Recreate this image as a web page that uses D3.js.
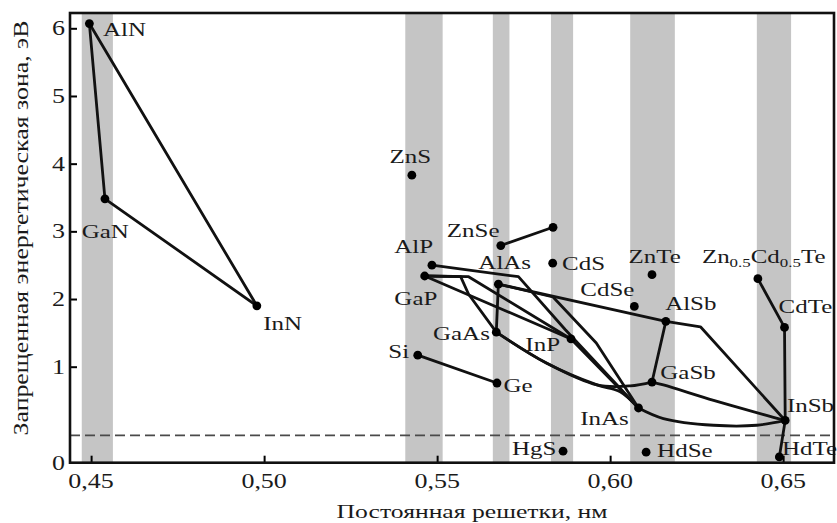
<!DOCTYPE html>
<html>
<head>
<meta charset="utf-8">
<script src="https://cdn.jsdelivr.net/npm/d3@7"></script>
<style>
  html, body { margin: 0; padding: 0; background: #fff; }
  svg { display: block; }
  svg text { font-family: "Liberation Serif", "Times New Roman", serif; }
</style>
</head>
<body>
<svg id="chart" width="837" height="523"></svg>
<script>
// Lattice constant (nm) and band gap (eV) of semiconductor compounds
const pointNames = ["AlN","GaN","InN","ZnS","ZnSe","ZnSe2","CdS","ZnTe","ZnCdTe","CdTe",
  "AlP","GaP","AlAs","GaAs","InP","CdSe","AlSb","GaSb","InAs","InSb","Si","Ge","HgS","HdSe","HdTe"];
const latticeConst = [0.4495,0.4540,0.4979,0.5427,0.5684,0.5835,0.5834,0.6121,0.6427,0.6504,
  0.5485,0.5464,0.5677,0.5671,0.5887,0.6070,0.6161,0.6121,0.6082,0.6506,0.5444,0.5673,0.5864,0.6104,0.6489];
const bandGap = [6.07,3.48,1.90,3.83,2.79,3.06,2.53,2.36,2.30,1.58,
  2.50,2.34,2.22,1.51,1.41,1.89,1.67,0.84,0.57,0.44,1.17,0.83,0.12,0.11,0.06];
const pointLabels = ["AlN","GaN","InN","ZnS","ZnSe","","CdS","ZnTe","Zn|0.5|Cd|0.5|Te","CdTe",
  "AlP","GaP","AlAs","GaAs","InP","CdSe","AlSb","GaSb","InAs","InSb","Si","Ge","HgS","HdSe","HdTe"];

// Alloy lines: endpoints plus intermediate [a, Eg] points of each curve
const alloyFrom = ["AlN","GaN","AlN","Si","ZnSe","ZnCdTe","CdTe","InSb",
  "AlAs","AlSb","AlAs","AlSb","GaSb","InAs","GaAs","GaAs","InP",
  "AlP","GaP","GaP","GaP","AlAs"];
const alloyTo = ["GaN","InN","InN","Ge","ZnSe2","CdTe","InSb","HdTe",
  "GaAs","GaSb","AlSb","InSb","InSb","InSb","InAs","GaSb","InAs",
  "InAs","GaAs","InP","InP","InAs"];
const alloyVia = [[],[],[],[],[],[],[],[],
  [],[],[],[[0.6261,1.59]],[[0.6154,0.81],[0.6299,0.65],[0.6444,0.50]],
  [[0.6154,0.46],[0.6299,0.39],[0.6424,0.39]],
  [[0.5817,1.05],[0.5962,0.81],[0.6029,0.74]],
  [[0.5817,1.05],[0.5962,0.81],[0.6058,0.80]],[],
  [[0.5735,2.33],[0.5870,1.55]],[[0.5568,2.33],[0.5591,2.07]],[],[[0.5591,2.33]],
  [[0.5835,2.03],[0.5960,1.35]]];
const alloySmooth = [false,false,false,false,false,false,false,false,
  false,false,false,false,true,true,true,true,false,
  false,false,false,false,false];

// Substrate lattice-constant bands [from, to]
const bandFrom = [0.4473,0.5408,0.5661,0.5829,0.6058,0.6424];
const bandTo   = [0.4563,0.5516,0.5709,0.5893,0.6187,0.6523];

const referenceLevel = 0.285;

const xTicks = [0.45,0.50,0.55,0.60,0.65];
const xTickLabels = ["0,45","0,50","0,55","0,60","0,65"];
const yTicks = [0,1,2,3,4,5,6];
const yTickLabels = ["0","1","2","3","4","5","6"];
const xTitle = "Постоянная решетки, нм";
const yTitle = "Запрещенная энергетическая зона, эВ";

// label offsets (px) from each dot
const labelOffset = {
  AlN:[13.7,12.7], GaN:[-23.3,39], InN:[6.3,24], ZnS:[-22.4,-11.7], ZnSe:[-54,-9],
  CdS:[9.4,6.7], ZnTe:[-23.4,-11.7], ZnCdTe:[-56,-15.7], CdTe:[-6,-14],
  AlP:[-37.7,-11.7], GaP:[-30.3,29], AlAs:[-20,-14.7], GaAs:[-63.3,7.7], InP:[-45.7,12.4],
  CdSe:[-54,-10], AlSb:[-0.7,-11.7], GaSb:[8.3,-3.4], InAs:[-58.3,16.7], InSb:[1.7,-8.4],
  Si:[-29.4,3.3], Ge:[6.6,9], HgS:[-51,4], HdSe:[11,5], HdTe:[2.7,-1.7]
};

const box = {left: 70, right: 834, top: 13, bottom: 462.7};
const stretch = 1.35;
const serif = "Liberation Serif";
const ink = "#1a1a1a";

const svg = d3.select("#chart");
const x = d3.scaleLinear().domain([0.4439, 0.6647]).range([box.left, box.right]);
const y = d3.scaleLinear().domain([0, 1, 6]).range([box.bottom, 366.7, 28.3]);

// shaded bands
svg.append("g").selectAll("rect").data(d3.range(bandFrom.length)).join("rect")
  .attr("x", i => x(bandFrom[i]))
  .attr("width", i => x(bandTo[i]) - x(bandFrom[i]))
  .attr("y", box.top)
  .attr("height", box.bottom - box.top)
  .attr("fill", "#c5c5c5");

// dashed reference level
svg.append("line")
  .attr("x1", box.left).attr("x2", box.right)
  .attr("y1", y(referenceLevel)).attr("y2", y(referenceLevel))
  .attr("stroke", "#4a4a4a").attr("stroke-width", 1.6)
  .attr("stroke-dasharray", "10,5");

// alloy lines
const idx = {};
pointNames.forEach((n, i) => idx[n] = i);
const lineLinear = d3.line().x(d => x(d[0])).y(d => y(d[1]));
const lineSmooth = d3.line().x(d => x(d[0])).y(d => y(d[1])).curve(d3.curveCatmullRom.alpha(0.5));
svg.append("g").selectAll("path").data(d3.range(alloyFrom.length)).join("path")
  .attr("d", i => {
    const a = idx[alloyFrom[i]], b = idx[alloyTo[i]];
    const pts = [[latticeConst[a], bandGap[a]], ...alloyVia[i], [latticeConst[b], bandGap[b]]];
    return (alloySmooth[i] ? lineSmooth : lineLinear)(pts);
  })
  .attr("fill", "none").attr("stroke", "#111").attr("stroke-width", 2.8)
  .attr("stroke-linejoin", "round").attr("stroke-linecap", "round");

// dots
svg.append("g").selectAll("circle").data(d3.range(pointNames.length)).join("circle")
  .attr("cx", i => x(latticeConst[i]))
  .attr("cy", i => y(bandGap[i]))
  .attr("r", 4.4).attr("fill", "#000");

// labels
const lab = svg.append("g").attr("font-family", serif).attr("font-size", 18.5).attr("fill", ink);
pointNames.forEach((n, i) => {
  if (!pointLabels[i]) return;
  const off = labelOffset[n];
  const t = lab.append("text")
    .attr("transform", `translate(${x(latticeConst[i]) + off[0]},${y(bandGap[i]) + off[1]}) scale(${stretch},1)`);
  const parts = pointLabels[i].split("|");
  parts.forEach((p, k) => {
    if (k % 2 === 0) t.append("tspan").attr("dy", k ? "-4" : null).text(p);
    else t.append("tspan").attr("font-size", 12.5).attr("dy", "4").text(p);
  });
});

// axes: inward ticks drawn by d3, labels placed below / left
const xAxis = svg.append("g").attr("transform", `translate(0,${box.bottom})`)
  .call(d3.axisBottom(x).tickValues(xTicks).tickFormat("").tickSize(-7));
const yAxis = svg.append("g").attr("transform", `translate(${box.left},0)`)
  .call(d3.axisLeft(y).tickValues(yTicks.slice(1)).tickFormat("").tickSize(-7));
[xAxis, yAxis].forEach(g => {
  g.select(".domain").remove();
  g.selectAll(".tick line").attr("stroke", "#000").attr("stroke-width", 2);
});

svg.append("g").selectAll("text").data(xTicks).join("text")
  .attr("transform", d => `translate(${x(d)},488) scale(1.3,1)`)
  .attr("text-anchor", "middle").attr("font-family", serif).attr("font-size", 20).attr("fill", ink)
  .text((d, i) => xTickLabels[i]);
svg.append("g").selectAll("text").data(yTicks).join("text")
  .attr("transform", d => `translate(65,${y(d) + 7}) scale(1.3,1)`)
  .attr("text-anchor", "end").attr("font-family", serif).attr("font-size", 20).attr("fill", ink)
  .text((d, i) => yTickLabels[i]);

// frame
svg.append("rect")
  .attr("x", box.left).attr("y", box.top)
  .attr("width", box.right - box.left).attr("height", box.bottom - box.top)
  .attr("fill", "none").attr("stroke", "#111").attr("stroke-width", 2.6);

// axis titles
svg.append("text")
  .attr("transform", `translate(${(box.left + box.right) / 2 + 20},518) scale(1.35,1)`)
  .attr("text-anchor", "middle").attr("font-family", serif).attr("font-size", 19).attr("fill", ink)
  .text(xTitle);
svg.append("text")
  .attr("transform", `translate(28,228) rotate(-90) scale(1.23,1)`)
  .attr("text-anchor", "middle").attr("font-family", serif).attr("font-size", 21).attr("fill", ink)
  .text(yTitle);
</script>
</body>
</html>
